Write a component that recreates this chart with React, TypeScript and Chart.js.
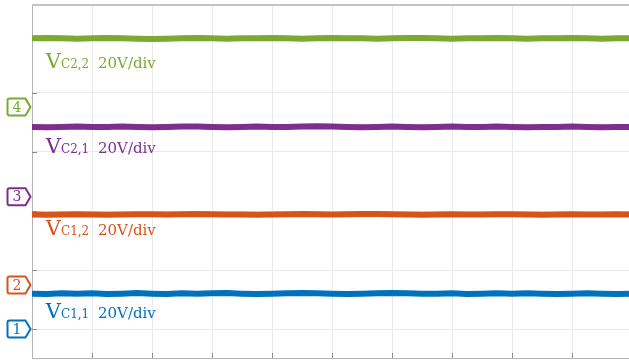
import { useEffect, useRef } from "react";
import { Chart, registerables } from "chart.js";

Chart.register(...registerables);

// Screen is 10 horizontal divisions; samples every quarter division.
const sampleDiv: number[] = Array.from({ length: 41 }, (_, i) => i * 0.25);

// Capacitor voltages (V), read along the sweep.
const vC11: number[] = [
  12.0, 11.9, 12.1, 12.0, 12.1, 11.9, 12.0, 12.2, 12.0, 11.9, 12.1, 12.0, 12.1, 12.2,
  12.0, 11.9, 12.0, 12.1, 12.2, 12.1, 12.0, 11.9, 12.0, 12.1, 12.2, 12.1, 12.0, 12.0,
  12.1, 11.9, 12.0, 12.1, 12.0, 12.1, 12.0, 11.9, 12.0, 12.1, 12.0, 11.9, 12.0,
];
const vC12: number[] = [
  23.9, 23.8, 23.9, 24.0, 23.9, 23.8, 23.9, 24.0, 24.0, 23.9, 24.0, 24.1, 24.0, 23.9,
  23.9, 23.8, 23.9, 24.0, 24.1, 24.0, 23.9, 24.0, 24.1, 24.1, 24.0, 23.9, 23.8, 23.9,
  24.0, 23.9, 23.9, 24.0, 24.0, 23.9, 23.8, 23.9, 24.0, 23.9, 23.9, 24.0, 23.9,
];
const vC21: number[] = [
  23.7, 23.6, 23.7, 23.8, 23.7, 23.7, 23.8, 23.7, 23.6, 23.7, 23.8, 23.8, 23.7, 23.6,
  23.7, 23.8, 23.7, 23.7, 23.8, 23.9, 23.8, 23.7, 23.6, 23.7, 23.8, 23.7, 23.6, 23.7,
  23.8, 23.7, 23.7, 23.8, 23.7, 23.6, 23.7, 23.7, 23.8, 23.7, 23.6, 23.7, 23.7,
];
const vC22: number[] = [
  23.3, 23.4, 23.3, 23.2, 23.3, 23.4, 23.3, 23.2, 23.1, 23.2, 23.3, 23.4, 23.3, 23.2,
  23.3, 23.3, 23.4, 23.3, 23.2, 23.3, 23.4, 23.3, 23.3, 23.2, 23.3, 23.4, 23.4, 23.3,
  23.2, 23.3, 23.3, 23.4, 23.3, 23.2, 23.3, 23.3, 23.4, 23.3, 23.2, 23.3, 23.3,
];

// Channel settings: name, number, vertical offset (div), volts per division
const channelNames = ["C1,1", "C1,2", "C2,1", "C2,2"];
const channelNumbers = ["1", "2", "3", "4"];
const channelOffsetDiv = [0, 0.746, 2.24, 3.76];
const voltsPerDiv = [20, 20, 20, 20];
const channelColors = ["#0072bd", "#d95319", "#7e2f8e", "#77ac30"];
const channelSeries = [vC11, vC12, vC21, vC22];

// Where each channel's caption sits (x, baseline y) in screen divisions
const captionX = 0.23;
const captionScaleX = 1.1;
const captionY = [0.186, 1.593, 2.98, 4.42];

const FONT = '"DejaVu Serif"';

const toDiv = (ch: number, v: number) => channelOffsetDiv[ch] + v / voltsPerDiv[ch];

const scopeOverlay = {
  id: "scopeOverlay",
  afterDraw(chart: any) {
    const { ctx, chartArea, scales } = chart;
    const xs = scales.x;
    const ys = scales.y;
    ctx.save();

    // top frame line
    ctx.strokeStyle = "#c4c4c4";
    ctx.lineWidth = 2;
    ctx.beginPath();
    ctx.moveTo(chartArea.left, chartArea.top);
    ctx.lineTo(chartArea.right, chartArea.top);
    ctx.stroke();

    // inward tick marks
    ctx.strokeStyle = "#8a8a8a";
    ctx.lineWidth = 1;
    ctx.beginPath();
    for (let i = 1; i < 10; i++) {
      const px = Math.round(xs.getPixelForValue(i)) + 0.5;
      ctx.moveTo(px, chartArea.bottom);
      ctx.lineTo(px, chartArea.bottom - 5);
    }
    for (let j = 0; j <= 4; j++) {
      const py = Math.round(ys.getPixelForValue(j)) + 0.5;
      ctx.moveTo(chartArea.left, py);
      ctx.lineTo(chartArea.left + 5, py);
    }
    ctx.stroke();

    // channel ground markers
    for (let ch = 0; ch < 4; ch++) {
      const y = ys.getPixelForValue(channelOffsetDiv[ch]);
      const tip = chartArea.left - 1.5;
      const r = tip - 5;
      const l = chartArea.left - 24.5;
      const h = 8.5;
      ctx.beginPath();
      ctx.moveTo(l + 2, y - h);
      ctx.lineTo(r, y - h);
      ctx.lineTo(tip, y);
      ctx.lineTo(r, y + h);
      ctx.lineTo(l + 2, y + h);
      ctx.quadraticCurveTo(l, y + h, l, y + h - 2);
      ctx.lineTo(l, y - h + 2);
      ctx.quadraticCurveTo(l, y - h, l + 2, y - h);
      ctx.closePath();
      ctx.fillStyle = "#ffffff";
      ctx.fill();
      ctx.strokeStyle = channelColors[ch];
      ctx.lineWidth = 2;
      ctx.stroke();
      ctx.fillStyle = channelColors[ch];
      ctx.font = `14px ${FONT}`;
      ctx.textAlign = "center";
      ctx.textBaseline = "middle";
      ctx.fillText(channelNumbers[ch], (l + r) / 2 + 0.5, y + 1);
    }

    // captions
    ctx.textAlign = "left";
    ctx.textBaseline = "alphabetic";
    for (let ch = 0; ch < 4; ch++) {
      const x = xs.getPixelForValue(captionX);
      const y = ys.getPixelForValue(captionY[ch]);
      ctx.fillStyle = channelColors[ch];
      ctx.font = `21px ${FONT}`;
      ctx.fillText("V", x, y);
      const w = ctx.measureText("V").width;
      ctx.font = `12px ${FONT}`;
      ctx.fillText(channelNames[ch], x + w, y);
      ctx.font = `15px ${FONT}`;
      ctx.fillText(`${voltsPerDiv[ch]}V/div`, xs.getPixelForValue(captionScaleX), y);
    }
    ctx.restore();
  },
};

export default function App() {
  const canvasRef = useRef<HTMLCanvasElement | null>(null);

  useEffect(() => {
    if (!canvasRef.current) return;
    const datasets = channelSeries.map((series, ch) => ({
      label: `V${channelNames[ch]}`,
      data: series.map((v, i) => ({ x: sampleDiv[i], y: toDiv(ch, v) })),
      borderColor: channelColors[ch],
      borderWidth: 6,
      pointRadius: 0,
      tension: 0,
      fill: false,
    }));

    const chart = new Chart(canvasRef.current, {
      type: "line",
      data: { datasets },
      plugins: [scopeOverlay],
      options: {
        animation: false,
        responsive: false,
        devicePixelRatio: 1,
        layout: { padding: { left: 32, top: 5, right: 8, bottom: 2 } },
        plugins: { legend: { display: false }, tooltip: { enabled: false } },
        scales: {
          x: {
            type: "linear",
            min: 0,
            max: 10,
            afterBuildTicks: (s: any) => {
              s.ticks = Array.from({ length: 11 }, (_, i) => ({ value: i }));
            },
            afterFit: (s: any) => {
              s.height = 0;
            },
            ticks: { display: false },
            grid: { color: "#e9e9e9", lineWidth: 1, drawTicks: false },
            border: { color: "#b4b4b4", width: 1 },
          },
          y: {
            type: "linear",
            min: -0.49,
            max: 5.49,
            afterBuildTicks: (s: any) => {
              s.ticks = [0, 1, 2, 3, 4].map((v) => ({ value: v }));
            },
            afterFit: (s: any) => {
              s.width = 0;
            },
            ticks: { display: false },
            grid: { color: "#e9e9e9", lineWidth: 1, drawTicks: false },
            border: { color: "#b4b4b4", width: 1 },
          },
        },
      },
    });
    return () => chart.destroy();
  }, []);

  return (
    <div
      style={{
        position: "fixed",
        left: 0,
        top: 0,
        width: 629,
        height: 360,
        overflow: "hidden",
        background: "#ffffff",
      }}
    >
      <canvas ref={canvasRef} width={640} height={360} style={{ display: "block" }} />
    </div>
  );
}
